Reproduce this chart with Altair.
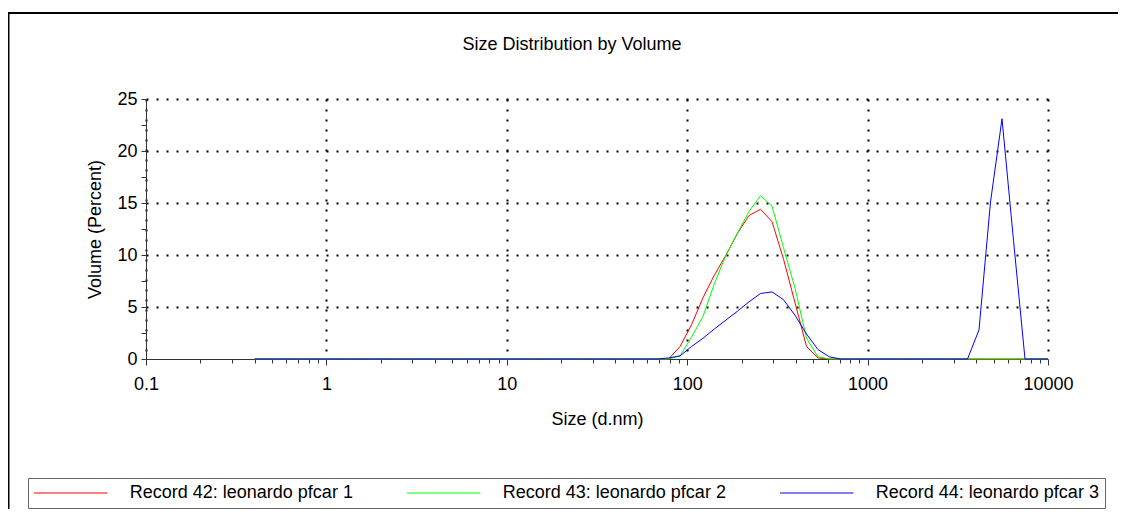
import altair as alt
import pandas as pd

sizes = [0.4, 0.4632, 0.5365, 0.6213, 0.7195, 0.8332, 0.9649, 1.117, 1.294, 1.499,
         1.736, 2.01, 2.328, 2.696, 3.122, 3.615, 4.187, 4.849, 5.615, 6.503,
         7.531, 8.721, 10.1, 11.7, 13.54, 15.69, 18.17, 21.04, 24.36, 28.21,
         32.67, 37.84, 43.82, 50.75, 58.77, 68.06, 78.82, 91.28, 105.7, 122.4,
         141.8, 164.2, 190.1, 220.2, 255.0, 295.3, 342.0, 396.1, 458.7, 531.2,
         615.1, 712.4, 825.0, 955.4, 1106, 1281, 1484, 1718, 1990, 2305,
         2669, 3091, 3580, 4145, 4801, 5560, 6439, 7456, 8635, 10000]

rec42 = [0] * 36 + [0, 1.2, 3.3, 5.9, 8.1, 10.0, 12.1, 13.8, 14.4, 13.2,
                    9.6, 5.4, 1.2, 0.1, 0] + [0] * 19
rec43 = [0] * 36 + [0, 0.3, 2.1, 4.1, 7.3, 10.0, 12.1, 14.2, 15.7, 14.7,
                    10.7, 6.8, 2.0, 0.2, 0] + [0] * 19
rec44 = [0] * 36 + [0.1, 0.3, 1.2, 2.0, 2.9, 3.75, 4.6, 5.5, 6.3, 6.45,
                    5.7, 4.2, 2.4, 0.9, 0.2] + [0] * 12 + [2.8, 15.1, 23.1, 11.4, 0, 0, 0]

names = ["Record 42: leonardo pfcar 1", "Record 43: leonardo pfcar 2", "Record 44: leonardo pfcar 3"]
colors = ["#ff0000", "#00ff00", "#0000ff"]
title_text = "Size Distribution by Volume"

x_ticks = [0.1, 0.2, 0.3, 0.4, 0.5, 0.6, 0.7, 0.8, 0.9,
           1, 2, 3, 4, 5, 6, 7, 8, 9,
           10, 20, 30, 40, 50, 60, 70, 80, 90,
           100, 200, 300, 400, 500, 600, 700, 800, 900,
           1000, 2000, 3000, 4000, 5000, 6000, 7000, 8000, 9000, 10000]
y_ticks = [0, 2.5, 5, 7.5, 10, 12.5, 15, 17.5, 20, 22.5, 25]

rows = []
for name, vals in zip(names, [rec42, rec43, rec44]):
    for s, v in zip(sizes, vals):
        rows.append({"size": s, "volume": v, "record": name})
df = pd.DataFrame(rows)

FONT = "Liberation Sans"
decade = "abs(log(datum.value)/LN10 - round(log(datum.value)/LN10)) < 0.000001"
five = "abs(datum.value/5 - round(datum.value/5)) < 0.000001"

lines = alt.Chart(df).mark_line(strokeWidth=1).encode(
    x=alt.X("size:Q",
            scale=alt.Scale(type="log", domain=[0.1, 10000], nice=False),
            axis=alt.Axis(
                title="Size (d.nm)", values=x_ticks,
                labelExpr=f"({decade}) ? format(datum.value, '~g') : ''",
                labelOverlap=False, labelFlush=False,
                grid=True,
                gridOpacity={"condition": {"test": decade, "value": 1}, "value": 0},
                tickSize={"condition": {"test": decade, "value": 6}, "value": 4},
                labelPadding=10, titlePadding=17,
            )),
    y=alt.Y("volume:Q",
            scale=alt.Scale(domain=[0, 25], nice=False),
            axis=alt.Axis(
                title="Volume (Percent)", values=y_ticks,
                labelExpr=f"({five}) ? format(datum.value, '~g') : ''",
                labelOverlap=False, labelFlush=False,
                grid=True,
                gridOpacity={"condition": {"test": f"({five}) && datum.value > 0", "value": 1}, "value": 0},
                tickSize=5, labelPadding=4,
                titlePadding=12,
            )),
    color=alt.Color("record:N",
                    scale=alt.Scale(domain=names, range=colors),
                    legend=alt.Legend(
                        title=None, orient="none", legendX=-118, legendY=379,
                        direction="horizontal", columns=3,
                        symbolType="M-7.35,0H7.35", symbolSize=100,
                        symbolStrokeWidth=1, symbolOffset=27.75,
                        labelOffset=50, columnPadding=52, labelLimit=400,
                        labelFontSize=18, labelFont=FONT, labelColor="#000",
                        strokeColor="#666", padding=6, fillColor="#fff",
                    )),
)

one = pd.DataFrame({"k": [0]})
frame_top = alt.Chart(one).mark_rule(color="#000", strokeWidth=2).encode(
    x=alt.value(-137.5), x2=alt.value(990), y=alt.value(-86))
frame_left = alt.Chart(one).mark_rule(color="#000", strokeWidth=2).encode(
    x=alt.value(-137.5), y=alt.value(-87), y2=alt.value(430))
title = alt.Chart(pd.DataFrame({"t": [title_text]})).mark_text(
    font=FONT, fontSize=18, color="#000", align="center", baseline="middle"
).encode(text="t:N", x=alt.value(426), y=alt.value(-54))

chart = alt.layer(lines, frame_top, frame_left, title).properties(
    width=902, height=260,
    autosize=alt.AutoSizeParams(type="none"),
    padding={"left": 138, "top": 91, "right": 70, "bottom": 150},
).configure_axis(
    labelFont=FONT, labelFontSize=18, labelColor="#000",
    titleFont=FONT, titleFontSize=18, titleFontWeight="normal", titleColor="#000",
    domainColor="#333", tickColor="#333", gridColor="#000",
    gridDash=[2, 8], gridWidth=2,
).configure_view(stroke=None)

chart.save("out.html", embed_options={"renderer": "svg", "actions": False})
